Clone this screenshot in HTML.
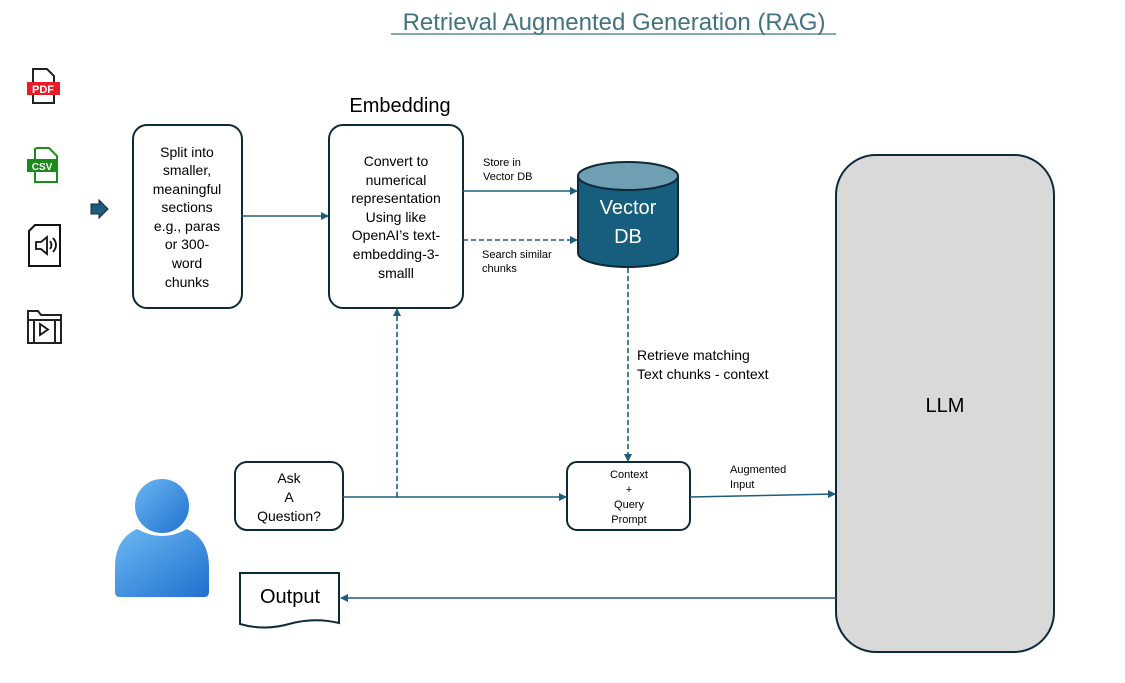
<!DOCTYPE html>
<html><head><meta charset="utf-8"><style>
body{margin:0;background:#fff;}
svg{display:block;font-family:"Liberation Sans",sans-serif;}
</style></head><body>
<svg width="1125" height="683" viewBox="0 0 1125 683" xmlns="http://www.w3.org/2000/svg">
<defs>
<marker id="a" markerWidth="8" markerHeight="8" refX="7" refY="4" orient="auto" markerUnits="userSpaceOnUse"><path d="M0,0 L8,4 L0,8 z" fill="#1f5d7e"/></marker>
<linearGradient id="pg" x1="0" y1="0" x2="1" y2="1"><stop offset="0" stop-color="#6cb8f2"/><stop offset="1" stop-color="#1f6fcf"/></linearGradient>
</defs>
<text x="614" y="30" text-anchor="middle" font-size="24" fill="#43737f">Retrieval Augmented Generation (RAG)</text>
<line x1="391" y1="34" x2="836" y2="34" stroke="#43737f" stroke-width="1.3"/>

<!-- icons -->
<path d="M33,69 h14 l7,7 v27 h-21 z" fill="none" stroke="#222" stroke-width="2"/>
<rect x="27" y="82" width="33" height="13" fill="#e81c24"/>
<text x="43" y="93" text-anchor="middle" font-size="11" font-weight="bold" fill="#fff">PDF</text>
<path d="M37,148 h12 l8,8 v26 h-22 v-33 z" fill="none" stroke="#1c8a1c" stroke-width="2"/>
<rect x="27" y="159" width="30" height="13" fill="#1c8a1c"/>
<text x="42" y="170" text-anchor="middle" font-size="10" font-weight="bold" fill="#fff">CSV</text>
<path d="M29,231 l6,-6 h25 v41 h-31 z" fill="#fff" stroke="#111" stroke-width="2"/>
<path d="M36,242 h5 l6,-5 v17 l-6,-5 h-5 z M50,241 q3,4 0,8 M53,238 q6,7 0,14" fill="none" stroke="#111" stroke-width="1.8"/>
<path d="M28,311 h10 l3,4 h20 v28 h-33 z M28,320 h33 M34,320 v23 M55,320 v23" fill="none" stroke="#222" stroke-width="2"/>
<path d="M40,324 v11 l8,-5.5 z" fill="none" stroke="#111" stroke-width="1.8"/>
<path d="M91,204 h8 v-4 l9,9 l-9,9 v-4 h-8 z" fill="#1f5d7e" stroke="#0e2a3a" stroke-width="1"/>

<g stroke="#0e2a3a" stroke-width="2" fill="#fff">
<rect x="133" y="125" width="109" height="183" rx="14"/>
<rect x="329" y="125" width="134" height="183" rx="14"/>
<rect x="235" y="462" width="108" height="68" rx="12"/>
<rect x="567" y="462" width="123" height="68" rx="10"/>
<rect x="836" y="155" width="218" height="497" rx="40" fill="#d9d9d9"/>
<path d="M240,573 h99 v50 q-25,-6 -50,1 q-25,7 -49,0 z"/>
</g>
<g font-size="14" fill="#000" text-anchor="middle">
<text x="187" y="157">Split into</text><text x="187" y="175">smaller,</text><text x="187" y="194">meaningful</text><text x="187" y="212">sections</text><text x="187" y="231">e.g., paras</text><text x="187" y="249">or 300-</text><text x="187" y="268">word</text><text x="187" y="287">chunks</text>
<text x="396" y="166">Convert to</text><text x="396" y="185">numerical</text><text x="396" y="203">representation</text><text x="396" y="222">Using like</text><text x="396" y="240">OpenAI’s text-</text><text x="396" y="259">embedding-3-</text><text x="396" y="278">smalll</text>
<text x="289" y="483">Ask</text><text x="289" y="502">A</text><text x="289" y="521">Question?</text>
</g>
<g font-size="11" text-anchor="middle"><text x="629" y="478">Context</text><text x="629" y="493">+</text><text x="629" y="508">Query</text><text x="629" y="523">Prompt</text></g>
<text x="400" y="112" text-anchor="middle" font-size="20">Embedding</text>
<text x="290" y="603" text-anchor="middle" font-size="20">Output</text>
<text x="945" y="412" text-anchor="middle" font-size="20">LLM</text>
<g font-size="11"><text x="483" y="166">Store in</text><text x="483" y="180">Vector DB</text><text x="482" y="258">Search similar</text><text x="482" y="272">chunks</text><text x="730" y="473">Augmented</text><text x="730" y="488">Input</text></g>
<g font-size="14"><text x="637" y="360">Retrieve matching</text><text x="637" y="379">Text chunks - context</text></g>

<path d="M578,176 v77 a50,14 0 0 0 100,0 v-77" fill="#175d7d" stroke="#0e2a3a" stroke-width="2"/>
<ellipse cx="628" cy="176" rx="50" ry="14" fill="#6f9fb2" stroke="#0e2a3a" stroke-width="2"/>
<text x="628" y="214" text-anchor="middle" font-size="20" fill="#fff">Vector</text>
<text x="628" y="243" text-anchor="middle" font-size="20" fill="#fff">DB</text>

<g stroke="#1f5d7e" stroke-width="1.6" fill="none" marker-end="url(#a)">
<line x1="242" y1="216" x2="328" y2="216"/>
<line x1="463" y1="191" x2="577" y2="191"/>
<line x1="463" y1="240" x2="577" y2="240" stroke-dasharray="5,3"/>
<line x1="628" y1="268" x2="628" y2="461" stroke-dasharray="5,3"/>
<line x1="343" y1="497" x2="566" y2="497"/>
<line x1="397" y1="497" x2="397" y2="309" stroke-dasharray="5,3"/>
<line x1="690" y1="497" x2="835" y2="494"/>
<line x1="836" y1="598" x2="341" y2="598"/>
</g>

<path d="M115,592 v-25 q0,-28 22,-38 q25,14 50,0 q22,10 22,38 v25 q0,5 -5,5 h-84 q-5,0 -5,-5 z" fill="url(#pg)"/>
<circle cx="162" cy="506" r="28" fill="url(#pg)" stroke="#fff" stroke-width="2"/>
</svg>
</body></html>
